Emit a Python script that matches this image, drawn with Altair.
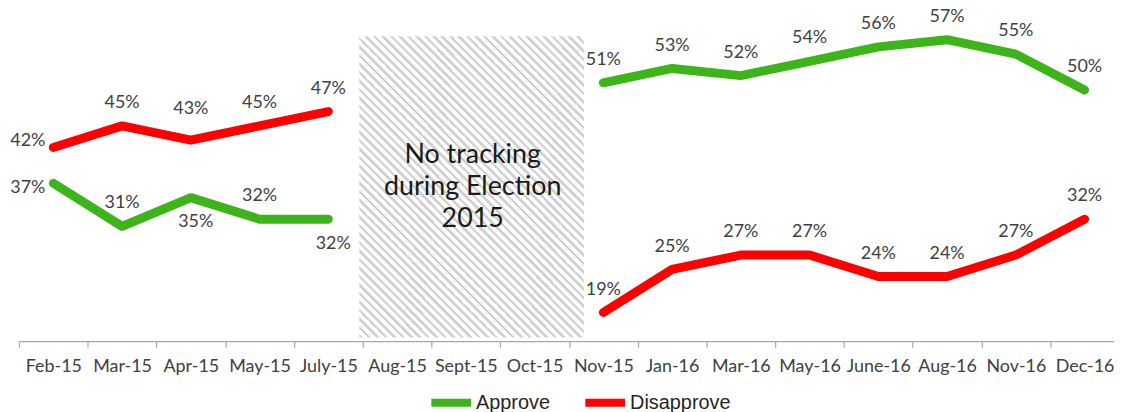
import altair as alt
import pandas as pd

# ---------------- data ----------------
categories = ["Feb-15", "Mar-15", "Apr-15", "May-15", "July-15", "Aug-15", "Sept-15", "Oct-15",
              "Nov-15", "Jan-16", "Mar-16", "May-16", "June-16", "Aug-16", "Nov-16", "Dec-16"]
approve = [37, 31, 35, 32, 32, None, None, None, 51, 53, 52, 54, 56, 57, 55, 50]
disapprove = [42, 45, 43, 45, 47, None, None, None, 19, 25, 27, 27, 24, 24, 27, 32]
# where each value label sits relative to its point
approve_label_pos = ["left_down", "above", "below", "above", "below", None, None, None,
                     "above", "above", "above", "above", "above", "above", "above", "above"]
disapprove_label_pos = ["left_up", "above", "above_high", "above", "above", None, None, None,
                        "above", "above", "above", "above", "above", "above", "above", "above"]
periods = ["2015"] * 5 + [None] * 3 + ["2016"] * 8
series_names = ["Approve", "Disapprove"]
series_colors = ["#3cb41a", "#ff0000"]
gap_note = "No tracking\nduring Election\n2015"
gap_months = ["Aug-15", "Oct-15"]

rows = []
for name, vals, poss in [("Approve", approve, approve_label_pos),
                         ("Disapprove", disapprove, disapprove_label_pos)]:
    for m, v, p, per in zip(categories, vals, poss, periods):
        if v is not None:
            rows.append({"month": m, "value": v, "series": name, "pos": p,
                         "period": per, "label": f"{v}%"})
df = pd.DataFrame(rows)

# annotation box spanning the untracked months (in band units of the month axis)
i0 = categories.index(gap_months[0])
i1 = categories.index(gap_months[1]) + 1
box = pd.DataFrame([{"x0": i0 - 0.05, "x1": i1 + 0.22, "y0": 15.5, "y1": 57.5,
                     "tx": (i0 + i1) / 2 + 0.1, "ty": 40.9, "note": gap_note}])

# ---------------- styling ----------------
FONT = "Lato"
LABEL_COLOR = "#404040"
W, H = 1107, 325

# diagonal hatch as hard-stop linear gradient
bw, bh = 227.0, 303.0
a = bw / bh
s = (a + 1) / (a * a + 1)
n_stripes = 62
stops = []
for k in range(n_stripes):
    o0 = k / n_stripes
    o1 = (k + 0.42) / n_stripes
    o2 = (k + 1) / n_stripes
    stops += [{"offset": o0, "color": "#d2d2d2"}, {"offset": o1, "color": "#d2d2d2"},
              {"offset": o1, "color": "#ffffff"}, {"offset": o2, "color": "#ffffff"}]
hatch = {"gradient": "linear", "x1": 0, "y1": 1, "x2": s * a, "y2": 1 - s, "stops": stops}

yscale = alt.Scale(domain=[15, 60], nice=False, zero=False)
xq = alt.Scale(domain=[0, len(categories)], nice=False, zero=False)

x_band = alt.X("month:N", sort=categories,
               scale=alt.Scale(type="band", domain=categories, paddingInner=0, paddingOuter=0),
               axis=alt.Axis(title=None, tickBand="extent", labelAngle=0, labelFont=FONT,
                             labelFontSize=18, labelColor=LABEL_COLOR, domainColor="#a6a6a6",
                             tickColor="#a6a6a6", tickSize=6, domainWidth=1.2, tickWidth=1.2,
                             labelPadding=11, grid=False))

rect = alt.Chart(box).mark_rect(fill=hatch).encode(
    x=alt.X("x0:Q", scale=xq, axis=None), x2="x1:Q",
    y=alt.Y("y0:Q", scale=yscale, axis=None), y2="y1:Q")

note = alt.Chart(box).mark_text(font=FONT, fontSize=27, color="#1a1a1a", lineBreak="\n",
                                lineHeight=32, align="center", baseline="middle").encode(
    x=alt.X("tx:Q", scale=xq, axis=None), y=alt.Y("ty:Q", scale=yscale, axis=None),
    text="note:N")

lines = alt.Chart(df).mark_line(strokeWidth=9, strokeCap="round", strokeJoin="round").encode(
    x=x_band,
    y=alt.Y("value:Q", scale=yscale, axis=None),
    color=alt.Color("series:N", scale=alt.Scale(domain=series_names, range=series_colors),
                    legend=alt.Legend(title=None, orient="none", direction="horizontal",
                                      legendX=411, legendY=363, symbolType="stroke",
                                      symbolSize=1600, symbolStrokeWidth=8,
                                      labelFont="Liberation Sans", labelFontSize=20,
                                      labelColor="#262626", labelOffset=1, columnPadding=19)),
    detail="period:N")


def label_layer(pos, **kw):
    return alt.Chart(df).transform_filter(alt.datum.pos == pos).mark_text(
        font=FONT, fontSize=18, color=LABEL_COLOR, baseline="middle", **kw).encode(
        x=x_band, y=alt.Y("value:Q", scale=yscale, axis=None), text="label:N")


labels = [
    label_layer("above", dy=-23),
    label_layer("above_high", dy=-31),
    label_layer("below", dy=25, dx=5),
    label_layer("left_up", align="right", dx=-8, dy=-6),
    label_layer("left_down", align="right", dx=-8, dy=5),
]

backdrop = alt.layer(rect, note)
main = alt.layer(lines, *labels)

chart = alt.layer(backdrop, main).resolve_scale(x="independent").properties(
    width=W, height=H,
    autosize=alt.AutoSizeParams(type="none"),
    padding={"left": 11, "top": 9, "right": -5, "bottom": 70},
).configure_view(stroke=None)

chart.save("out.html", embed_options={"renderer": "svg", "actions": False})
